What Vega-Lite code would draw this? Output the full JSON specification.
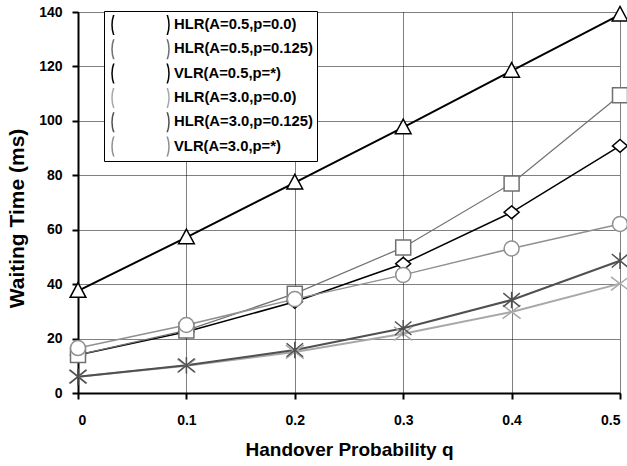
{
  "$schema": "https://vega.github.io/schema/vega-lite/v6.json",
  "width": 542,
  "height": 381,
  "autosize": "none",
  "padding": {"left": 78, "top": 12, "right": 7, "bottom": 73},
  "background": "white",
  "config": {
    "view": {"stroke": null},
    "font": "Liberation Sans",
    "axis": {
      "domainColor": "black",
      "domainWidth": 2,
      "tickColor": "black",
      "tickWidth": 2,
      "tickSize": 6,
      "gridColor": "#000000",
      "gridDash": [1, 1],
      "gridWidth": 1,
      "labelFont": "Liberation Sans",
      "labelFontWeight": "bold",
      "labelFontSize": 14,
      "labelColor": "black",
      "titleFont": "Liberation Sans",
      "titleFontWeight": "bold",
      "titleColor": "black"
    }
  },
  "data": {
    "values": [
      {"q": 0.0, "series": "HLR(A=0.5,p=0.0)", "t": 14},
      {"q": 0.1, "series": "HLR(A=0.5,p=0.0)", "t": 22.5},
      {"q": 0.2, "series": "HLR(A=0.5,p=0.0)", "t": 33.5},
      {"q": 0.3, "series": "HLR(A=0.5,p=0.0)", "t": 47.5},
      {"q": 0.4, "series": "HLR(A=0.5,p=0.0)", "t": 66.4},
      {"q": 0.5, "series": "HLR(A=0.5,p=0.0)", "t": 90.8},
      {"q": 0.0, "series": "HLR(A=0.5,p=0.125)", "t": 14},
      {"q": 0.1, "series": "HLR(A=0.5,p=0.125)", "t": 23},
      {"q": 0.2, "series": "HLR(A=0.5,p=0.125)", "t": 36.5},
      {"q": 0.3, "series": "HLR(A=0.5,p=0.125)", "t": 53.5},
      {"q": 0.4, "series": "HLR(A=0.5,p=0.125)", "t": 77},
      {"q": 0.5, "series": "HLR(A=0.5,p=0.125)", "t": 109.4},
      {"q": 0.0, "series": "VLR(A=0.5,p=*)", "t": 37.5},
      {"q": 0.1, "series": "VLR(A=0.5,p=*)", "t": 57.2},
      {"q": 0.2, "series": "VLR(A=0.5,p=*)", "t": 77.3},
      {"q": 0.3, "series": "VLR(A=0.5,p=*)", "t": 97.6},
      {"q": 0.4, "series": "VLR(A=0.5,p=*)", "t": 118.4},
      {"q": 0.5, "series": "VLR(A=0.5,p=*)", "t": 139},
      {"q": 0.0, "series": "HLR(A=3.0,p=0.0)", "t": 6},
      {"q": 0.1, "series": "HLR(A=3.0,p=0.0)", "t": 10},
      {"q": 0.2, "series": "HLR(A=3.0,p=0.0)", "t": 15.1},
      {"q": 0.3, "series": "HLR(A=3.0,p=0.0)", "t": 21.8},
      {"q": 0.4, "series": "HLR(A=3.0,p=0.0)", "t": 29.8},
      {"q": 0.5, "series": "HLR(A=3.0,p=0.0)", "t": 40.2},
      {"q": 0.0, "series": "HLR(A=3.0,p=0.125)", "t": 6},
      {"q": 0.1, "series": "HLR(A=3.0,p=0.125)", "t": 10.2},
      {"q": 0.2, "series": "HLR(A=3.0,p=0.125)", "t": 15.8},
      {"q": 0.3, "series": "HLR(A=3.0,p=0.125)", "t": 23.8},
      {"q": 0.4, "series": "HLR(A=3.0,p=0.125)", "t": 34.2},
      {"q": 0.5, "series": "HLR(A=3.0,p=0.125)", "t": 48.6},
      {"q": 0.0, "series": "VLR(A=3.0,p=*)", "t": 16.5},
      {"q": 0.1, "series": "VLR(A=3.0,p=*)", "t": 25},
      {"q": 0.2, "series": "VLR(A=3.0,p=*)", "t": 34.5},
      {"q": 0.3, "series": "VLR(A=3.0,p=*)", "t": 43.4},
      {"q": 0.4, "series": "VLR(A=3.0,p=*)", "t": 53.1},
      {"q": 0.5, "series": "VLR(A=3.0,p=*)", "t": 62.1}
    ]
  },
  "encoding": {
    "x": {
      "field": "q",
      "type": "quantitative",
      "scale": {"domain": [0, 0.5], "nice": false, "zero": false},
      "axis": {
        "values": [0, 0.1, 0.2, 0.3, 0.4, 0.5],
        "format": "~g",
        "labelPadding": 14,
        "title": "Handover Probability q",
        "titleFontSize": 19,
        "titlePadding": 13
      }
    },
    "y": {
      "field": "t",
      "type": "quantitative",
      "scale": {"domain": [0, 140], "nice": false},
      "axis": {
        "values": [0, 20, 40, 60, 80, 100, 120, 140],
        "labelPadding": 10,
        "title": "Waiting Time (ms)",
        "titleFontSize": 21,
        "titleY": 206,
        "titlePadding": 11
      }
    }
  },
  "layer": [
    {
      "mark": {"type": "point", "filled": false, "opacity": 0, "size": 225, "strokeWidth": 1.5, "clip": false},
      "encoding": {
        "stroke": {
          "field": "series",
          "type": "nominal",
          "scale": {
            "domain": ["HLR(A=0.5,p=0.0)", "HLR(A=0.5,p=0.125)", "VLR(A=0.5,p=*)", "HLR(A=3.0,p=0.0)", "HLR(A=3.0,p=0.125)", "VLR(A=3.0,p=*)"],
            "range": ["#000000", "#707070", "#000000", "#a8a8a8", "#505050", "#909090"]
          },
          "legend": {
            "orient": "none",
            "legendX": 26,
            "legendY": -1,
            "title": null,
            "padding": 4,
            "rowPadding": 4.3,
            "clipHeight": 20,
            "symbolSize": 3249,
            "symbolOffset": 3,
            "labelOffset": 4,
            "symbolStrokeWidth": 1.5,
            "labelFont": "Liberation Sans",
            "labelFontSize": 14.8,
            "labelFontWeight": "bold",
            "labelColor": "black",
            "labelLimit": 300,
            "strokeColor": "black",
            "fillColor": "white",
            "encode": {
              "legend": {"strokeWidth": {"value": 2}},
              "symbols": {
                "shape": {
                  "condition": [
                    {"test": "datum.value === 'HLR(A=0.5,p=0.0)'", "value": "M-1,0L-0.25,0M0.25,0L1,0M0,-0.23L0.25,0L0,0.23L-0.25,0Z"},
                    {"test": "datum.value === 'HLR(A=0.5,p=0.125)'", "value": "M-1,0L-0.25,0M0.25,0L1,0M-0.25,-0.25L0.25,-0.25L0.25,0.25L-0.25,0.25Z"},
                    {"test": "datum.value === 'VLR(A=0.5,p=*)'", "value": "M-1,0L-0.17,0M0.17,0L1,0M0,-0.3L0.31,0.26L-0.31,0.26Z"},
                    {"test": "datum.value === 'HLR(A=3.0,p=0.0)'", "value": "M-1,0L1,0M-0.28,-0.22L0.28,0.22M-0.28,0.22L0.28,-0.22"},
                    {"test": "datum.value === 'HLR(A=3.0,p=0.125)'", "value": "M-1,0L1,0M-0.26,-0.22L0.26,0.22M-0.26,0.22L0.26,-0.22M0,-0.28L0,0.28"}
                  ],
                  "value": "M-1,0L-0.25,0M0.25,0L1,0M-0.25,0A0.25,0.25,0,1,0,0.25,0A0.25,0.25,0,1,0,-0.25,0Z"
                },
                "fill": {"value": "white"},
                "strokeWidth": {"value": 1.5},
                "opacity": {"value": 1}
              }
            }
          }
        }
      }
    },
    {
      "mark": {"type": "line", "clip": false},
      "encoding": {
        "detail": {"field": "series", "type": "nominal"},
        "stroke": {
          "field": "series",
          "type": "nominal",
          "scale": {
            "domain": ["HLR(A=0.5,p=0.0)", "HLR(A=0.5,p=0.125)", "VLR(A=0.5,p=*)", "HLR(A=3.0,p=0.0)", "HLR(A=3.0,p=0.125)", "VLR(A=3.0,p=*)"],
            "range": ["#000000", "#707070", "#000000", "#a8a8a8", "#505050", "#909090"]
          }
        },
        "strokeWidth": {
          "field": "series",
          "type": "nominal",
          "scale": {
            "type": "ordinal",
            "range": [1.5, 1.2, 2, 2, 2, 1.5]
          },
          "legend": null
        }
      }
    },
    {
      "mark": {"type": "point", "filled": false, "fill": "white", "opacity": 1, "size": 225, "strokeWidth": 1.5, "clip": false},
      "encoding": {
        "stroke": {
          "field": "series",
          "type": "nominal",
          "scale": {
            "domain": ["HLR(A=0.5,p=0.0)", "HLR(A=0.5,p=0.125)", "VLR(A=0.5,p=*)", "HLR(A=3.0,p=0.0)", "HLR(A=3.0,p=0.125)", "VLR(A=3.0,p=*)"],
            "range": ["#000000", "#707070", "#000000", "#a8a8a8", "#505050", "#909090"]
          }
        },
        "shape": {
          "field": "series",
          "type": "nominal",
          "scale": {
            "range": [
              "M0,-0.85L1,0L0,0.85L-1,0Z",
              "M-1,-1L1,-1L1,1L-1,1Z",
              "M-1.2,-0.9L1.2,0.9M-1.2,0.9L1.2,-0.9",
              "M-1.1,-0.9L1.1,0.9M-1.1,0.9L1.1,-0.9M0,-1.1L0,1.1",
              "M0,-1.1L1.05,0.85L-1.05,0.85Z",
              "M-1,0A1,1,0,1,0,1,0A1,1,0,1,0,-1,0Z"
            ]
          },
          "legend": null
        }
      }
    }
  ]
}
